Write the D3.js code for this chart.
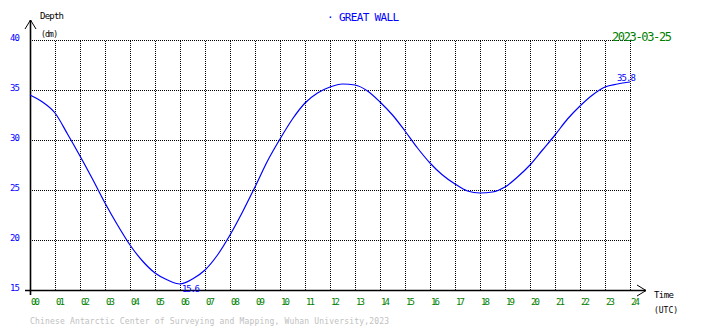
<!DOCTYPE html>
<html>
<head>
<meta charset="utf-8">
<script src="https://cdn.jsdelivr.net/npm/d3@7"></script>
<style>
  html, body { margin: 0; padding: 0; background: #fff; }
  svg { display: block; font-family: "DejaVu Sans Mono", "Liberation Mono", monospace; }
</style>
</head>
<body>
<svg id="chart" width="710" height="328"></svg>
<script>
// Tide gauge record, GREAT WALL station, 2023-03-25 (UTC), depth in dm
const stationName = "GREAT WALL";
const dateLabel = "2023-03-25";
const hours = [0, 0.5, 1, 1.5, 2, 2.5, 3, 3.5, 4, 4.5, 5, 5.5, 6, 6.5, 7, 7.5, 8, 8.5,
  9, 9.5, 10, 10.5, 11, 11.5, 12, 12.5, 13, 13.5, 14, 14.5, 15, 15.5, 16, 16.5,
  17, 17.5, 18, 18.5, 19, 19.5, 20, 20.5, 21, 21.5, 22, 22.5, 23, 23.5, 24];
const depth = [34.5, 33.8, 32.7, 30.6, 28.4, 26.1, 23.7, 21.5, 19.5, 17.9, 16.7, 16.0,
  15.6, 16.1, 17.0, 18.5, 20.5, 22.8, 25.3, 27.9, 30.1, 32.1, 33.7, 34.7, 35.3,
  35.6, 35.5, 34.9, 33.8, 32.5, 30.9, 29.2, 27.7, 26.5, 25.6, 24.9, 24.7, 24.8,
  25.3, 26.3, 27.5, 29.0, 30.5, 32.1, 33.4, 34.5, 35.3, 35.6, 35.8];
const xTicks = d3.range(0, 25);
const xTickLabels = xTicks.map(h => String(h).padStart(2, "0"));
const yTicks = [15, 20, 25, 30, 35, 40];
const footer = "Chinese Antarctic Center of Surveying and Mapping, Wuhan University,2023";

const svg = d3.select("#chart");
const x = d3.scaleLinear().domain([0, 24]).range([30, 630]);
const y = d3.scaleLinear().domain([15, 40]).range([290, 40]);

// dotted grid
const grid = svg.append("g").attr("stroke", "#000").attr("stroke-width", 1)
  .attr("stroke-dasharray", "1,1").attr("shape-rendering", "crispEdges");
grid.selectAll("line.v").data(xTicks.filter(h => h > 0)).join("line")
  .attr("x1", d => x(d) + 0.5).attr("x2", d => x(d) + 0.5)
  .attr("y1", y(40) + 0.5).attr("y2", y(15));
grid.selectAll("line.h").data(yTicks.filter(v => v > 15)).join("line")
  .attr("x1", x(0)).attr("x2", x(24) + 1)
  .attr("y1", d => y(d) + 0.5).attr("y2", d => y(d) + 0.5);

// axes with arrowheads
const axes = svg.append("g").attr("stroke", "#000").attr("fill", "none");
axes.append("line").attr("x1", x(0) + 0.5).attr("x2", x(0) + 0.5)
  .attr("y1", 20).attr("y2", 295).attr("stroke-width", 1.6);
axes.append("line").attr("x1", 25).attr("x2", 646)
  .attr("y1", y(15) + 0.5).attr("y2", y(15) + 0.5).attr("stroke-width", 1.6);
axes.append("path").attr("d", `M${x(0) - 5},29 L${x(0) + 0.5},20 L${x(0) + 6},29`).attr("stroke-width", 1);
axes.append("path").attr("d", `M637,285 L646,${y(15) + 0.5} L637,296`).attr("stroke-width", 1);

// y tick labels
svg.append("g").attr("fill", "#0000ff").attr("font-size", 9)
  .selectAll("text").data(yTicks).join("text")
  .attr("x", 10).attr("y", d => y(d) + 1).attr("textLength", 10).text(d => d);

// x tick labels
svg.append("g").attr("fill", "#008000").attr("font-size", 9)
  .selectAll("text").data(xTicks).join("text")
  .attr("x", d => x(d) + 1).attr("y", 305).attr("textLength", 9)
  .text((d, i) => xTickLabels[i]);

// depth curve
const line = d3.line().x((d, i) => x(hours[i])).y(d => y(d)).curve(d3.curveMonotoneX);
svg.append("path").datum(depth).attr("d", line)
  .attr("fill", "none").attr("stroke", "#0000ff").attr("stroke-width", 1.2);

// min / last value labels
const minIdx = d3.minIndex(depth);
svg.append("text").attr("x", x(hours[minIdx]) + 2).attr("y", 292)
  .attr("fill", "#0000ff").attr("font-size", 9).attr("textLength", 18)
  .text(depth[minIdx].toFixed(1));
const last = depth.length - 1;
svg.append("text").attr("x", x(hours[last]) - 13).attr("y", y(depth[last]) - 1)
  .attr("fill", "#0000ff").attr("font-size", 9).attr("textLength", 19)
  .text(depth[last].toFixed(1));

// titles and axis names
svg.append("text").attr("x", 327).attr("y", 21).attr("fill", "#0000ff")
  .attr("font-size", 11).attr("textLength", 72).text("· " + stationName);
svg.append("text").attr("x", 612).attr("y", 41).attr("fill", "#008000")
  .attr("font-size", 12).attr("textLength", 60).text(dateLabel);
svg.append("text").attr("x", 40).attr("y", 19).attr("font-size", 9)
  .attr("textLength", 24).text("Depth");
svg.append("text").attr("x", 41).attr("y", 37).attr("font-size", 8)
  .attr("textLength", 17).text("(dm)");
svg.append("text").attr("x", 654).attr("y", 298).attr("font-size", 9)
  .attr("textLength", 20).text("Time");
svg.append("text").attr("x", 654).attr("y", 313).attr("font-size", 8)
  .attr("textLength", 24).text("(UTC)");
svg.append("text").attr("x", 30).attr("y", 324).attr("fill", "#c0c0c0")
  .attr("font-size", 8).attr("textLength", 359).text(footer);
</script>
</body>
</html>
